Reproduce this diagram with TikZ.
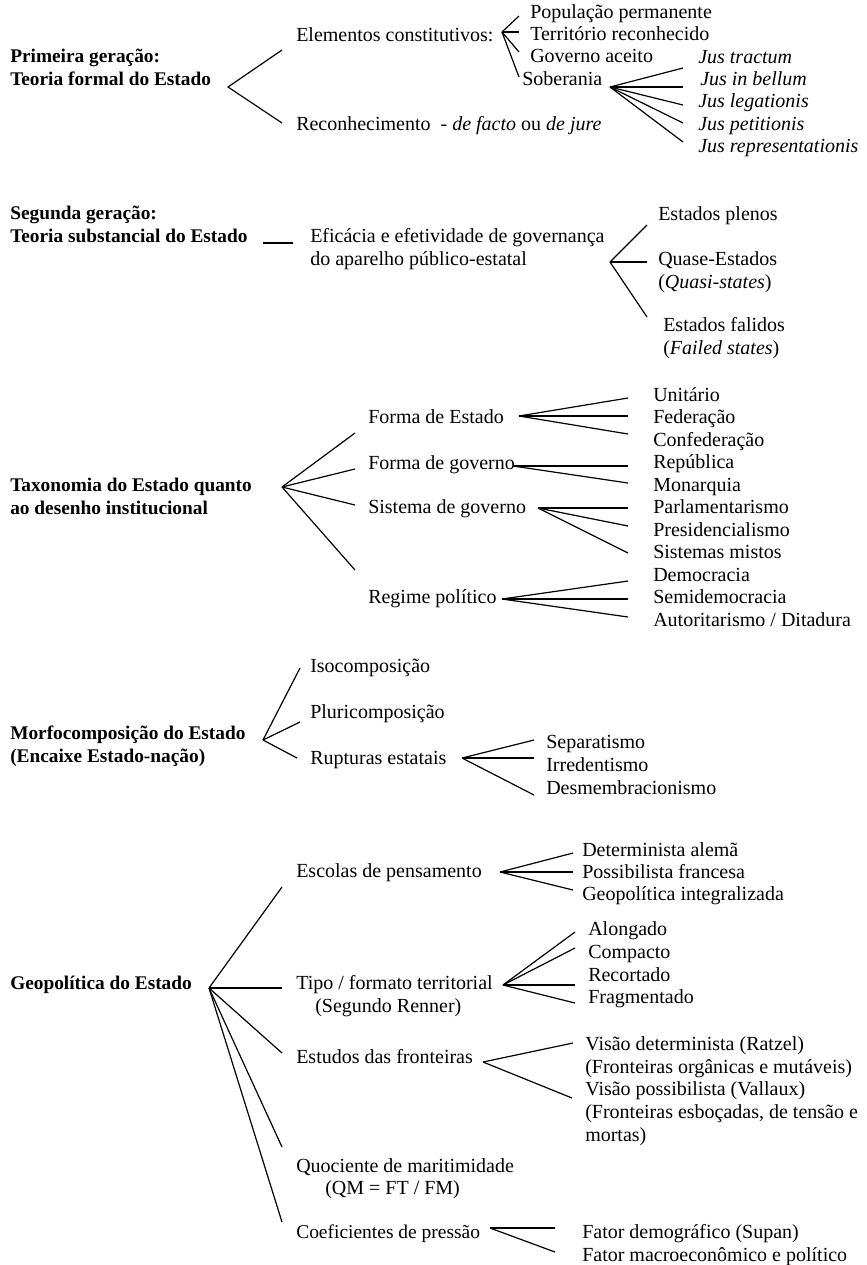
\documentclass[tikz,border=0pt]{standalone}
\usepackage{fontspec}
\setmainfont{Liberation Serif}
\begin{document}
\begin{tikzpicture}[x=0.75pt,y=-0.75pt,
  lab/.style={anchor=base west, inner sep=0pt, align=left, font=\fontsize{15}{16.9}\selectfont},
  head/.style={anchor=base west, inner sep=0pt, align=left, font=\fontsize{14.5}{16.9}\selectfont\bfseries},
  br/.style={line width=0.9pt}]
\useasboundingbox (0,0) rectangle (867,1265);
% note: for multi-line nodes the base anchor is the baseline of the last line

% ---------- Section 1
\node[head] (g1) at (10,85) {Primeira geração:\\Teoria formal do Estado};
\node[lab] (ec) at (296,41) {Elementos constitutivos:};
\node[lab] (rec) at (296,130) {Reconhecimento\ \ - \textit{de facto} ou \textit{de jure}};
\coordinate (g1a) at (228,87);
\coordinate (g1e1) at (282,50);
\coordinate (g1e2) at (282,123);
\draw[br] (g1e1) -- (g1a) -- (g1e2);

\node[lab] (pop) at (530,18) {População permanente};
\node[lab] (ter) at (530,40) {Território reconhecido};
\node[lab] (gov) at (530,62) {Governo aceito};
\node[lab] (sob) at (522,85) {Soberania};
\coordinate (eca) at (502,32);
\coordinate (ece1) at (519,16);
\coordinate (ece2) at (519,32);
\coordinate (ece3) at (519,52);
\coordinate (ece4) at (519,77);
\foreach \e in {ece1,ece2,ece3,ece4} \draw[br] (eca) -- (\e);

\node[lab] (j1) at (698,63) {\textit{Jus tractum}};
\node[lab] (j2) at (700,85) {\textit{Jus in bellum}};
\node[lab] (j3) at (698,107) {\textit{Jus legationis}};
\node[lab] (j4) at (698,130) {\textit{Jus petitionis}};
\node[lab] (j5) at (698,152) {\textit{Jus representationis}};
\coordinate (soa) at (610,87);
\coordinate (soe1) at (683,68);
\coordinate (soe2) at (683,87);
\coordinate (soe3) at (683,105);
\coordinate (soe4) at (683,123);
\coordinate (soe5) at (683,142);
\foreach \e in {soe1,soe2,soe3,soe4,soe5} \draw[br] (soa) -- (\e);

% ---------- Section 2
\node[head] (g2) at (10,242) {Segunda geração:\\Teoria substancial do Estado};
\node[lab] (ef) at (310,265) {Eficácia e efetividade de governança\\do aparelho público-estatal};
\coordinate (g2l1) at (263,243);
\coordinate (g2l2) at (293,243);
\draw[br] (g2l1) -- (g2l2);
\node[lab] (ep) at (658,220) {Estados plenos};
\node[lab] (qe) at (658,288) {Quase-Estados\\(\textit{Quasi-states})};
\node[lab] (fa) at (663,354) {Estados falidos\\(\textit{Failed states})};
\coordinate (efa) at (610,262);
\coordinate (efe1) at (647,225);
\coordinate (efe2) at (647,262);
\coordinate (efe3) at (647,317);
\foreach \e in {efe1,efe2,efe3} \draw[br] (efa) -- (\e);

% ---------- Section 3
\node[head] (g3) at (10,514) {Taxonomia do Estado quanto\\ao desenho institucional};
\node[lab] (fe) at (368,423) {Forma de Estado};
\node[lab] (fg) at (368,469) {Forma de governo};
\node[lab] (sg) at (368,513) {Sistema de governo};
\node[lab] (rp) at (368,603) {Regime político};
\coordinate (g3a) at (282,487);
\coordinate (g3e1) at (355,433);
\coordinate (g3e2) at (355,469);
\coordinate (g3e3) at (355,505);
\coordinate (g3e4) at (355,570);
\foreach \e in {g3e1,g3e2,g3e3,g3e4} \draw[br] (g3a) -- (\e);

\node[lab] (t1) at (653,401) {Unitário};
\node[lab] (t2) at (653,423) {Federação};
\node[lab] (t3) at (653,446) {Confederação};
\node[lab] (t4) at (653,468) {República};
\node[lab] (t5) at (653,491) {Monarquia};
\node[lab] (t6) at (653,513) {Parlamentarismo};
\node[lab] (t7) at (653,536) {Presidencialismo};
\node[lab] (t8) at (653,558) {Sistemas mistos};
\node[lab] (t9) at (653,581) {Democracia};
\node[lab] (t10) at (653,603) {Semidemocracia};
\node[lab] (t11) at (653,626) {Autoritarismo / Ditadura};

\coordinate (fea) at (519,416);
\coordinate (fee1) at (628,398);
\coordinate (fee2) at (628,416);
\coordinate (fee3) at (628,434);
\foreach \e in {fee1,fee2,fee3} \draw[br] (fea) -- (\e);
\coordinate (fga) at (513,466);
\coordinate (fge1) at (628,466);
\coordinate (fge2) at (628,483);
\foreach \e in {fge1,fge2} \draw[br] (fga) -- (\e);
\coordinate (sga) at (538,508);
\coordinate (sge1) at (628,508);
\coordinate (sge2) at (628,526);
\coordinate (sge3) at (628,553);
\foreach \e in {sge1,sge2,sge3} \draw[br] (sga) -- (\e);
\coordinate (rpa) at (502,599);
\coordinate (rpe1) at (628,581);
\coordinate (rpe2) at (628,599);
\coordinate (rpe3) at (628,617);
\foreach \e in {rpe1,rpe2,rpe3} \draw[br] (rpa) -- (\e);

% ---------- Section 4
\node[head] (g4) at (10,762) {Morfocomposição do Estado\\(Encaixe Estado-nação)};
\node[lab] (iso) at (310,672) {Isocomposição};
\node[lab] (plu) at (310,718) {Pluricomposição};
\node[lab] (rup) at (310,764) {Rupturas estatais};
\coordinate (g4a) at (263,740);
\coordinate (g4e1) at (300,668);
\coordinate (g4e2) at (300,722);
\coordinate (g4e3) at (297,758);
\foreach \e in {g4e1,g4e2,g4e3} \draw[br] (g4a) -- (\e);
\node[lab] (sep) at (546,748) {Separatismo};
\node[lab] (irr) at (546,771) {Irredentismo};
\node[lab] (des) at (546,794) {Desmembracionismo};
\coordinate (rua) at (462,758);
\coordinate (rue1) at (534,740);
\coordinate (rue2) at (534,758);
\coordinate (rue3) at (534,795);
\foreach \e in {rue1,rue2,rue3} \draw[br] (rua) -- (\e);

% ---------- Section 5
\node[head] (g5) at (10,989) {Geopolítica do Estado};
\node[lab] (esc) at (296,877) {Escolas de pensamento};
\node[lab] (tip) at (296,989) {Tipo / formato territorial};
\node[lab] (ren) at (315,1012) {(Segundo Renner)};
\node[lab] (est) at (296,1063) {Estudos das fronteiras};
\node[lab] (quo) at (296,1172) {Quociente de maritimidade};
\node[lab] (qm) at (325,1194) {(QM = FT / FM)};
\node[lab, font=\fontsize{14.6}{16.9}\selectfont] (coe) at (296,1238) {Coeficientes de pressão};
\coordinate (g5a) at (209,988);
\coordinate (g5e1) at (282,887);
\coordinate (g5e2) at (282,988);
\coordinate (g5e3) at (282,1053);
\coordinate (g5e4) at (282,1147);
\coordinate (g5e5) at (282,1222);
\foreach \e in {g5e1,g5e2,g5e3,g5e4,g5e5} \draw[br] (g5a) -- (\e);

\node[lab] (d1) at (582,856) {Determinista alemã};
\node[lab] (d2) at (582,878) {Possibilista francesa};
\node[lab] (d3) at (582,900) {Geopolítica integralizada};
\coordinate (esa) at (500,872);
\coordinate (ese1) at (573,853);
\coordinate (ese2) at (573,872);
\coordinate (ese3) at (573,890);
\foreach \e in {ese1,ese2,ese3} \draw[br] (esa) -- (\e);

\node[lab] (f1) at (588,935) {Alongado};
\node[lab] (f2) at (588,958) {Compacto};
\node[lab] (f3) at (588,981) {Recortado};
\node[lab] (f4) at (588,1003) {Fragmentado};
\coordinate (tia) at (503,985);
\coordinate (tie1) at (575,932);
\coordinate (tie2) at (575,948);
\coordinate (tie3) at (575,985);
\coordinate (tie4) at (575,1003);
\foreach \e in {tie1,tie2,tie3,tie4} \draw[br] (tia) -- (\e);

\node[lab] (v1) at (585,1073) {Visão determinista (Ratzel)\\(Fronteiras orgânicas e mutáveis)};
\node[lab] (v2) at (585,1141) {Visão possibilista (Vallaux)\\(Fronteiras esboçadas, de tensão e\\mortas)};
\coordinate (fra) at (483,1062);
\coordinate (fre1) at (573,1043);
\coordinate (fre2) at (572,1098);
\foreach \e in {fre1,fre2} \draw[br] (fra) -- (\e);

\node[lab] (p1) at (582,1238) {Fator demográfico (Supan)};
\node[lab] (p2) at (582,1261) {Fator macroeconômico e político};
\coordinate (cea) at (490,1228);
\coordinate (cee1) at (555,1228);
\coordinate (cee2) at (555,1252);
\foreach \e in {cee1,cee2} \draw[br] (cea) -- (\e);
\end{tikzpicture}
\end{document}
